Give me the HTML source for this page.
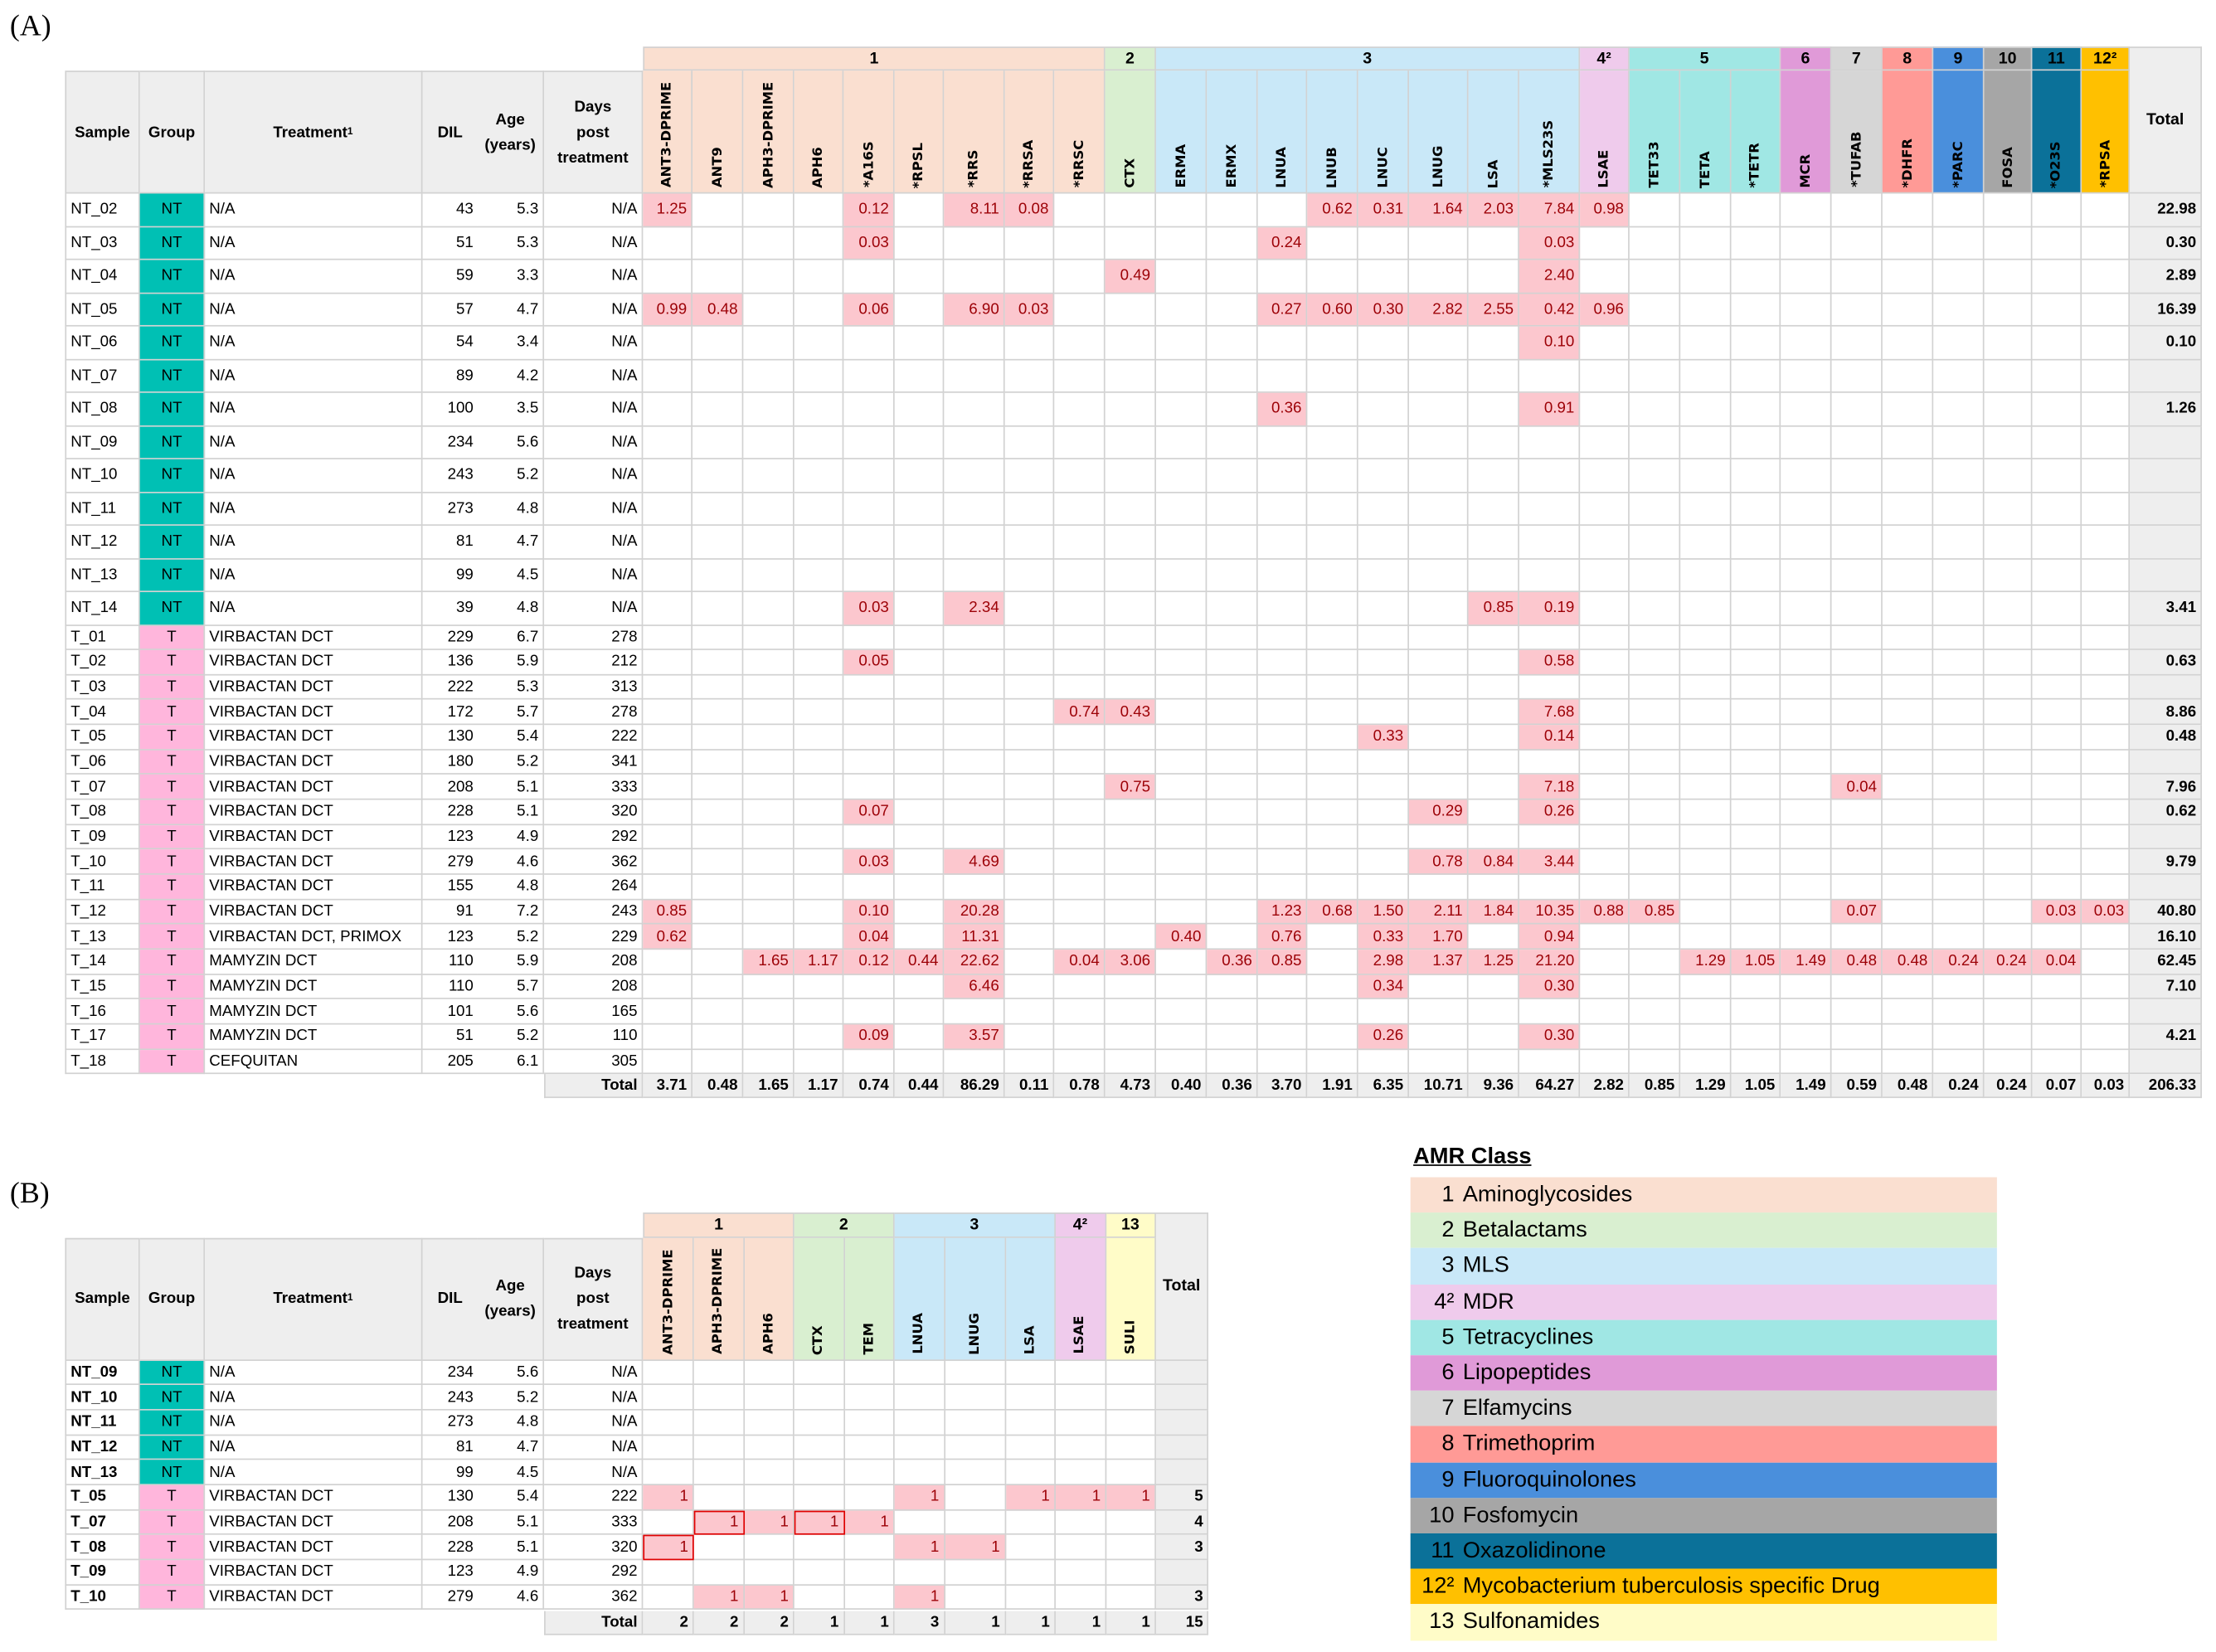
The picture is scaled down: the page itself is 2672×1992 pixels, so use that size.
<!DOCTYPE html>
<html><head><meta charset="utf-8">
<style>
html,body{margin:0;padding:0;background:#fff;overflow:hidden;width:2672px;height:1992px}
#root{position:absolute;left:0;top:0;width:1568px;height:1169px;transform:scale(1.70408);transform-origin:0 0;font-family:"Liberation Sans Narrow","Liberation Sans",sans-serif;color:#000}
.c{position:absolute;box-sizing:border-box;border-right:1px solid #d2d2d2;border-bottom:1px solid #d2d2d2;font-size:11px;white-space:nowrap;overflow:visible;display:flex;align-items:center}
.rot{position:absolute;left:50%;bottom:3px;writing-mode:vertical-rl;transform:translateX(-50%) rotate(180deg);font-family:"DejaVu Sans",sans-serif;font-weight:bold;font-size:9.6px;white-space:nowrap}
.lab{position:absolute;font-family:"Liberation Serif",serif;font-size:21px}
</style></head>
<body>
<div id="root">
<div class="lab" style="left:7px;top:6px">(A)</div>
<div class="lab" style="left:7px;top:832px">(B)</div>
</div>
<script>
// ---------- Panel A data ----------
const genesA = ["ANT3-DPRIME","ANT9","APH3-DPRIME","APH6","*A16S","*RPSL","*RRS","*RRSA","*RRSC","CTX","ERMA","ERMX","LNUA","LNUB","LNUC","LNUG","LSA","*MLS23S","LSAE","TET33","TETA","*TETR","MCR","*TUFAB","*DHFR","*PARC","FOSA","*O23S","*RPSA"];
const geneGroupA = [1,1,1,1,1,1,1,1,1,2,3,3,3,3,3,3,3,3,4,5,5,5,6,7,8,9,10,11,12];
const samplesA = ["NT_02","NT_03","NT_04","NT_05","NT_06","NT_07","NT_08","NT_09","NT_10","NT_11","NT_12","NT_13","NT_14","T_01","T_02","T_03","T_04","T_05","T_06","T_07","T_08","T_09","T_10","T_11","T_12","T_13","T_14","T_15","T_16","T_17","T_18"];
const treatmentsA = ["N/A","N/A","N/A","N/A","N/A","N/A","N/A","N/A","N/A","N/A","N/A","N/A","N/A","VIRBACTAN DCT","VIRBACTAN DCT","VIRBACTAN DCT","VIRBACTAN DCT","VIRBACTAN DCT","VIRBACTAN DCT","VIRBACTAN DCT","VIRBACTAN DCT","VIRBACTAN DCT","VIRBACTAN DCT","VIRBACTAN DCT","VIRBACTAN DCT","VIRBACTAN DCT, PRIMOX","MAMYZIN DCT","MAMYZIN DCT","MAMYZIN DCT","MAMYZIN DCT","CEFQUITAN"];
const dilA = [43,51,59,57,54,89,100,234,243,273,81,99,39,229,136,222,172,130,180,208,228,123,279,155,91,123,110,110,101,51,205];
const ageA = ["5.3","5.3","3.3","4.7","3.4","4.2","3.5","5.6","5.2","4.8","4.7","4.5","4.8","6.7","5.9","5.3","5.7","5.4","5.2","5.1","5.1","4.9","4.6","4.8","7.2","5.2","5.9","5.7","5.6","5.2","6.1"];
const daysA = ["N/A","N/A","N/A","N/A","N/A","N/A","N/A","N/A","N/A","N/A","N/A","N/A","N/A","278","212","313","278","222","341","333","320","292","362","264","243","229","208","208","165","110","305"];
// per-row abundance values: [geneIndex, value]
const valuesA = [
 [[0,"1.25"],[4,"0.12"],[6,"8.11"],[7,"0.08"],[13,"0.62"],[14,"0.31"],[15,"1.64"],[16,"2.03"],[17,"7.84"],[18,"0.98"]],
 [[4,"0.03"],[12,"0.24"],[17,"0.03"]],
 [[9,"0.49"],[17,"2.40"]],
 [[0,"0.99"],[1,"0.48"],[4,"0.06"],[6,"6.90"],[7,"0.03"],[12,"0.27"],[13,"0.60"],[14,"0.30"],[15,"2.82"],[16,"2.55"],[17,"0.42"],[18,"0.96"]],
 [[17,"0.10"]],
 [],
 [[12,"0.36"],[17,"0.91"]],
 [],[],[],[],[],
 [[4,"0.03"],[6,"2.34"],[16,"0.85"],[17,"0.19"]],
 [],
 [[4,"0.05"],[17,"0.58"]],
 [],
 [[8,"0.74"],[9,"0.43"],[17,"7.68"]],
 [[14,"0.33"],[17,"0.14"]],
 [],
 [[9,"0.75"],[17,"7.18"],[23,"0.04"]],
 [[4,"0.07"],[15,"0.29"],[17,"0.26"]],
 [],
 [[4,"0.03"],[6,"4.69"],[15,"0.78"],[16,"0.84"],[17,"3.44"]],
 [],
 [[0,"0.85"],[4,"0.10"],[6,"20.28"],[12,"1.23"],[13,"0.68"],[14,"1.50"],[15,"2.11"],[16,"1.84"],[17,"10.35"],[18,"0.88"],[19,"0.85"],[23,"0.07"],[27,"0.03"],[28,"0.03"]],
 [[0,"0.62"],[4,"0.04"],[6,"11.31"],[10,"0.40"],[12,"0.76"],[14,"0.33"],[15,"1.70"],[17,"0.94"]],
 [[2,"1.65"],[3,"1.17"],[4,"0.12"],[5,"0.44"],[6,"22.62"],[8,"0.04"],[9,"3.06"],[11,"0.36"],[12,"0.85"],[14,"2.98"],[15,"1.37"],[16,"1.25"],[17,"21.20"],[20,"1.29"],[21,"1.05"],[22,"1.49"],[23,"0.48"],[24,"0.48"],[25,"0.24"],[26,"0.24"],[27,"0.04"]],
 [[6,"6.46"],[14,"0.34"],[17,"0.30"]],
 [],
 [[4,"0.09"],[6,"3.57"],[14,"0.26"],[17,"0.30"]],
 []
];
const rowTotalsA = ["22.98","0.30","2.89","16.39","0.10","","1.26","","","","","","3.41","","0.63","","8.86","0.48","","7.96","0.62","","9.79","","40.80","16.10","62.45","7.10","","4.21",""];
const colTotalsA = ["3.71","0.48","1.65","1.17","0.74","0.44","86.29","0.11","0.78","4.73","0.40","0.36","3.70","1.91","6.35","10.71","9.36","64.27","2.82","0.85","1.29","1.05","1.49","0.59","0.48","0.24","0.24","0.07","0.03"];
const grandTotalA = "206.33";
// ---------- Panel B data ----------
const genesB = ["ANT3-DPRIME","APH3-DPRIME","APH6","CTX","TEM","LNUA","LNUG","LSA","LSAE","SULI"];
const geneGroupB = [1,1,1,2,2,3,3,3,4,13];
const samplesB = ["NT_09","NT_10","NT_11","NT_12","NT_13","T_05","T_07","T_08","T_09","T_10"];
const treatmentsB = ["N/A","N/A","N/A","N/A","N/A","VIRBACTAN DCT","VIRBACTAN DCT","VIRBACTAN DCT","VIRBACTAN DCT","VIRBACTAN DCT"];
const dilB = [234,243,273,81,99,130,208,228,123,279];
const ageB = ["5.6","5.2","4.8","4.7","4.5","5.4","5.1","5.1","4.9","4.6"];
const daysB = ["N/A","N/A","N/A","N/A","N/A","222","333","320","292","362"];
const valuesB = [[],[],[],[],[],[[0,"1"],[5,"1"],[7,"1"],[8,"1"],[9,"1"]],[[1,"1"],[2,"1"],[3,"1"],[4,"1"]],[[0,"1"],[5,"1"],[6,"1"]],[],[[1,"1"],[2,"1"],[5,"1"]]];
const highlightB = [[6,1],[6,3],[7,0]];
const rowTotalsB = ["","","","","","5","4","3","","3"];
const colTotalsB = ["2","2","2","1","1","3","1","1","1","1"];
const grandTotalB = "15";
// ---------- legend ----------
const legendNums = ["1","2","3","4²","5","6","7","8","9","10","11","12²","13"];
const legendNames = ["Aminoglycosides","Betalactams","MLS","MDR","Tetracyclines","Lipopeptides","Elfamycins","Trimethoprim","Fluoroquinolones","Fosfomycin","Oxazolidinone","Mycobacterium tuberculosis specific Drug","Sulfonamides"];

const groupColor = {1:"#fadfd0",2:"#d9efd0",3:"#c9e8f8",4:"#efcbec",5:"#a0e7e4",6:"#e09ad8",7:"#d6d6d6",8:"#ff9a96",9:"#4a8fdc",10:"#a6a6a6",11:"#0b7199",12:"#ffc000",13:"#fffcc8"};
const groupLabel = {4:"4²",12:"12²"};
const HDR="#eeeeee", PINK="#fcc7ce", PTXT="#9c0006", NTC="#00c0b4", TC="#ffb6dc";
const root=document.getElementById('root');

function cell(x,y,w,h,txt,name,o){
  o=o||{};
  const el=document.createElement('div');
  el.className='c';
  
  
  el.style.left=x+'px';el.style.top=y+'px';el.style.width=w+'px';el.style.height=h+'px';
  if(o.bg) el.style.background=o.bg;
  if(o.bl) el.style.borderLeft='1px solid #d2d2d2';
  if(o.bt) el.style.borderTop='1px solid #d2d2d2';
  if(o.nob){el.style.borderRight='none';}
  el.style.justifyContent=o.align==='l'?'flex-start':(o.align==='c'?'center':'flex-end');
  el.style.padding=o.align==='l'?'0 0 0 3px':(o.align==='c'?'0':'0 3px 0 0');
  if(o.bold) el.style.fontWeight='bold';
  if(o.color) el.style.color=o.color;
  if(o.fs) el.style.fontSize=o.fs+'px';
  if(o.center) {el.style.textAlign='center';el.style.whiteSpace='normal';el.style.lineHeight='18px';}
  if(o.rot){const s=document.createElement('span');s.className='rot';s.textContent=txt;el.appendChild(s);}
  else if(o.html) el.innerHTML=txt; else el.textContent=txt;
  root.appendChild(el);
  return el;
}

const metaX=[46,99,145,299,338,385,455];
function colXs(widths){const xs=[455];widths.forEach(w=>xs.push(xs[xs.length-1]+w));return xs;}

function buildTable(p){
  const xs=colXs(p.widths);
  const totX=xs[xs.length-1], totW=p.totW;
  let i=0;
  while(i<p.groups.length){
    let j=i;while(j+1<p.groups.length&&p.groups[j+1]===p.groups[i])j++;
    const g=p.groups[i];
    cell(xs[i],p.gTop,xs[j+1]-xs[i],p.hTop-p.gTop,groupLabel[g]||String(g),'class-header-'+g,{bg:groupColor[g],align:'c',bold:true,bt:true,bl:i===0,fs:11.5});
    i=j+1;
  }
  const mh=[["Sample","sample-header"],["Group","group-header"],[p.treatHdr,"treatment-header"],["DIL","dil-header"],["Age<br>(years)","age-header"],["Days<br>post<br>treatment","days-header"]];
  for(let k=0;k<6;k++){
    cell(metaX[k],p.hTop,metaX[k+1]-metaX[k],p.hBot-p.hTop,mh[k][0],mh[k][1],{bg:HDR,align:'c',bold:true,bt:true,bl:k===0,html:true,center:true,fs:11,nob:k===3});
  }
  p.genes.forEach((g,k)=>{
    const grp=p.groups[k];
    cell(xs[k],p.hTop,p.widths[k],p.hBot-p.hTop,g,'gene-header-'+g.replace('*','').toLowerCase(),{bg:groupColor[grp],rot:true});
  });
  cell(totX,p.gTop,totW,p.hBot-p.gTop,"Total","total-header",{bg:HDR,align:'c',bold:true,bt:true,fs:11.5});
  let y=p.hBot;
  p.samples.forEach((s,r)=>{
    const h=p.rowH(r);
    const isNT=s.startsWith('NT');
    cell(46,y,53,h,s,'sample-'+s.toLowerCase(),{align:'l',bl:true,bold:p.boldSample});
    cell(99,y,46,h,isNT?'NT':'T','group-'+s.toLowerCase(),{align:'c',bg:isNT?NTC:TC});
    cell(145,y,154,h,p.treat[r],'treatment-'+s.toLowerCase(),{align:'l'});
    cell(299,y,39,h,String(p.dil[r]),'dil-'+s.toLowerCase(),{nob:true});
    cell(338,y,47,h,p.age[r],'age-'+s.toLowerCase(),{});
    cell(385,y,70,h,p.days[r],'days-'+s.toLowerCase(),{});
    const vm={};p.vals[r].forEach(v=>vm[v[0]]=v[1]);
    p.genes.forEach((g,k)=>{
      const v=vm[k];
      const e=cell(xs[k],y,p.widths[k],h,v||'',v?'value-'+s.toLowerCase()+'-'+g.replace('*','').toLowerCase():'empty-cell',{bg:v?PINK:null,color:PTXT});
      if(p.hl&&p.hl.some(q=>q[0]===r&&q[1]===k)){e.style.outline='1.3px solid #e00000';e.style.outlineOffset='-1px';e.style.zIndex=2;}
    });
    cell(totX,y,totW,h,p.rowTot[r],'row-total-'+s.toLowerCase(),{bg:HDR,bold:true});
    y+=h;
  });
  const th=p.totH;
  cell(385,y,70,th,"Total","total-row-label",{bg:HDR,bold:true,bl:true});
  p.genes.forEach((g,k)=>cell(xs[k],y,p.widths[k],th,p.colTot[k],'col-total-'+g.replace('*','').toLowerCase(),{bg:HDR,bold:true}));
  cell(totX,y,totW,th,p.grand,'grand-total',{bg:HDR,bold:true});
}

buildTable({genes:genesA,groups:geneGroupA,widths:[35,36,36,35,36,35,43,35,36,36,36,36,35,36,36,42,36,43,35,36,36,35,36,36,36,36,34,35,34],totW:51,
  gTop:33,hTop:50,hBot:137,rowH:r=>r<13?23.5:17.65,totH:17,samples:samplesA,treat:treatmentsA,dil:dilA,age:ageA,days:daysA,vals:valuesA,rowTot:rowTotalsA,colTot:colTotalsA,grand:grandTotalA,treatHdr:"Treatment <sup style='font-size:7px'>1</sup>",boldSample:false});
buildTable({genes:genesB,groups:geneGroupB,widths:[36,35.5,35.5,35.5,35.5,35.5,43,35.3,36,35],totW:37.5,
  gTop:858,hTop:876,hBot:962.5,rowH:r=>17.7,totH:17.7,samples:samplesB,treat:treatmentsB,dil:dilB,age:ageB,days:daysB,vals:valuesB,hl:highlightB,rowTot:rowTotalsB,colTot:colTotalsB,grand:grandTotalB,treatHdr:"Treatment<sup style='font-size:7px'>1</sup>",boldSample:true});

const lt=document.createElement('div');


lt.style.cssText='position:absolute;left:1000px;top:810px;font-size:16px;font-weight:bold;text-decoration:underline;font-family:"Liberation Sans Narrow","Liberation Sans",sans-serif';
lt.textContent='AMR Class';
root.appendChild(lt);
const legendGroups=[1,2,3,4,5,6,7,8,9,10,11,12,13];
legendNums.forEach((n,k)=>{
  const d=document.createElement('div');
  
  
  d.style.cssText='position:absolute;left:998px;width:415px;height:25.2px;top:'+(833+k*25.2)+'px;background:'+groupColor[legendGroups[k]]+';font-size:16px;line-height:25px';
  d.innerHTML='<span style="position:absolute;right:384px">'+n+'</span><span style="position:absolute;left:37px">'+legendNames[k]+'</span>';
  root.appendChild(d);
});
</script>
</body></html>
